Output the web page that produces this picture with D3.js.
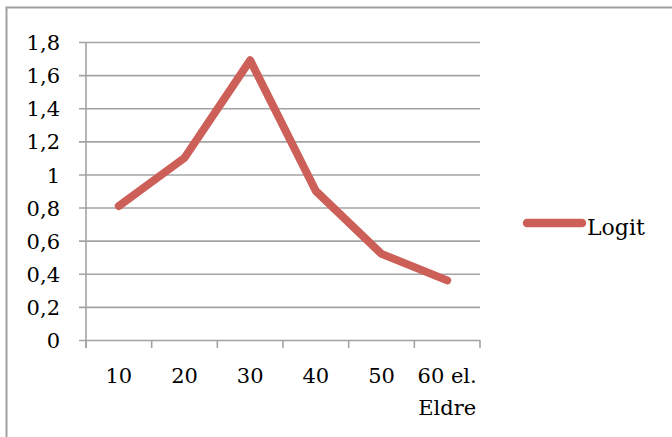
<!DOCTYPE html>
<html>
<head>
<meta charset="utf-8">
<script src="https://cdn.jsdelivr.net/npm/d3@7"></script>
<style>
  html, body { margin: 0; padding: 0; background: #fff; }
  svg { display: block; }
</style>
</head>
<body>
<div id="chart"></div>
<script>
// Age groups and their logit values
const categories = ["10", "20", "30", "40", "50", "60 el. Eldre"];
const categoryLines = [["10"], ["20"], ["30"], ["40"], ["50"], ["60 el.", "Eldre"]];
const logitValues = [0.81, 1.1, 1.69, 0.9, 0.52, 0.36];
const yTicks = [0, 0.2, 0.4, 0.6, 0.8, 1, 1.2, 1.4, 1.6, 1.8];
const seriesName = "Logit";

const W = 672, H = 437;
const lineColor = "#cc5f58";
const gridColor = "#a3a3a3";
const FONT = "'DejaVu Serif', serif";
const FS = "21px";

const svg = d3.select("#chart").append("svg")
  .attr("width", W).attr("height", H);

// outer frame (only top and left edges fall inside the canvas)
svg.append("rect")
  .attr("x", 6.5).attr("y", 7.5)
  .attr("width", W + 10).attr("height", H + 10)
  .attr("fill", "none").attr("stroke", "#a0a0a0").attr("stroke-width", 2);

const plot = { left: 86, right: 480, top: 42, bottom: 340 };

const x = d3.scaleBand().domain(categories).range([plot.left, plot.right]);
const y = d3.scaleLinear().domain([0, 1.8]).range([plot.bottom, plot.top]);

// horizontal gridlines with outward ticks on the left
const yAxis = d3.axisLeft(y).tickValues(yTicks)
  .tickSize(-(plot.right - plot.left)).tickSizeOuter(0)
  .tickFormat(d => d3.format("")(d).replace(".", ","));
const gy = svg.append("g").attr("transform", `translate(${plot.left},0)`).call(yAxis);
gy.select(".domain").remove();
gy.selectAll(".tick line")
  .attr("x1", -7)
  .attr("stroke", gridColor).attr("stroke-width", 1.6);
gy.selectAll(".tick text")
  .attr("x", -26).attr("dy", "0.36em")
  .attr("text-anchor", "end")
  .style("font-family", FONT).style("font-size", FS).style("fill", "#000");

// vertical axis line
svg.append("line")
  .attr("x1", plot.left).attr("x2", plot.left)
  .attr("y1", y(1.8)).attr("y2", plot.bottom + 8)
  .attr("stroke", gridColor).attr("stroke-width", 1.6);

// category boundary ticks below the baseline
const bounds = categories.map(c => x(c)).concat([x(categories[categories.length - 1]) + x.bandwidth()]);
svg.append("g").selectAll("line").data(bounds).join("line")
  .attr("x1", d => d).attr("x2", d => d)
  .attr("y1", plot.bottom).attr("y2", plot.bottom + 8)
  .attr("stroke", gridColor).attr("stroke-width", 1.6);

// category labels
const lbl = svg.append("g").selectAll("text").data(categories).join("text")
  .attr("x", d => x(d) + x.bandwidth() / 2)
  .attr("y", 383)
  .attr("text-anchor", "middle")
  .style("font-family", FONT).style("font-size", FS).style("fill", "#000");
lbl.each(function(d, i) {
  d3.select(this).selectAll("tspan").data(categoryLines[i]).join("tspan")
    .attr("x", x(d) + x.bandwidth() / 2)
    .attr("dy", (t, j) => j === 0 ? 0 : 32)
    .text(t => t);
});

// data line
const line = d3.line()
  .x((d, i) => x(categories[i]) + x.bandwidth() / 2)
  .y(d => y(d));
svg.append("path")
  .datum(logitValues)
  .attr("d", line)
  .attr("fill", "none")
  .attr("stroke", lineColor)
  .attr("stroke-width", 8)
  .attr("stroke-linecap", "round")
  .attr("stroke-linejoin", "round");

// legend
const lg = svg.append("g");
lg.append("line")
  .attr("x1", 527).attr("x2", 582)
  .attr("y1", 223).attr("y2", 223)
  .attr("stroke", lineColor).attr("stroke-width", 8.5)
  .attr("stroke-linecap", "round");
lg.append("text")
  .attr("x", 587).attr("y", 235)
  .style("font-family", FONT).style("font-size", "22px").style("fill", "#000")
  .text(seriesName);
</script>
</body>
</html>
